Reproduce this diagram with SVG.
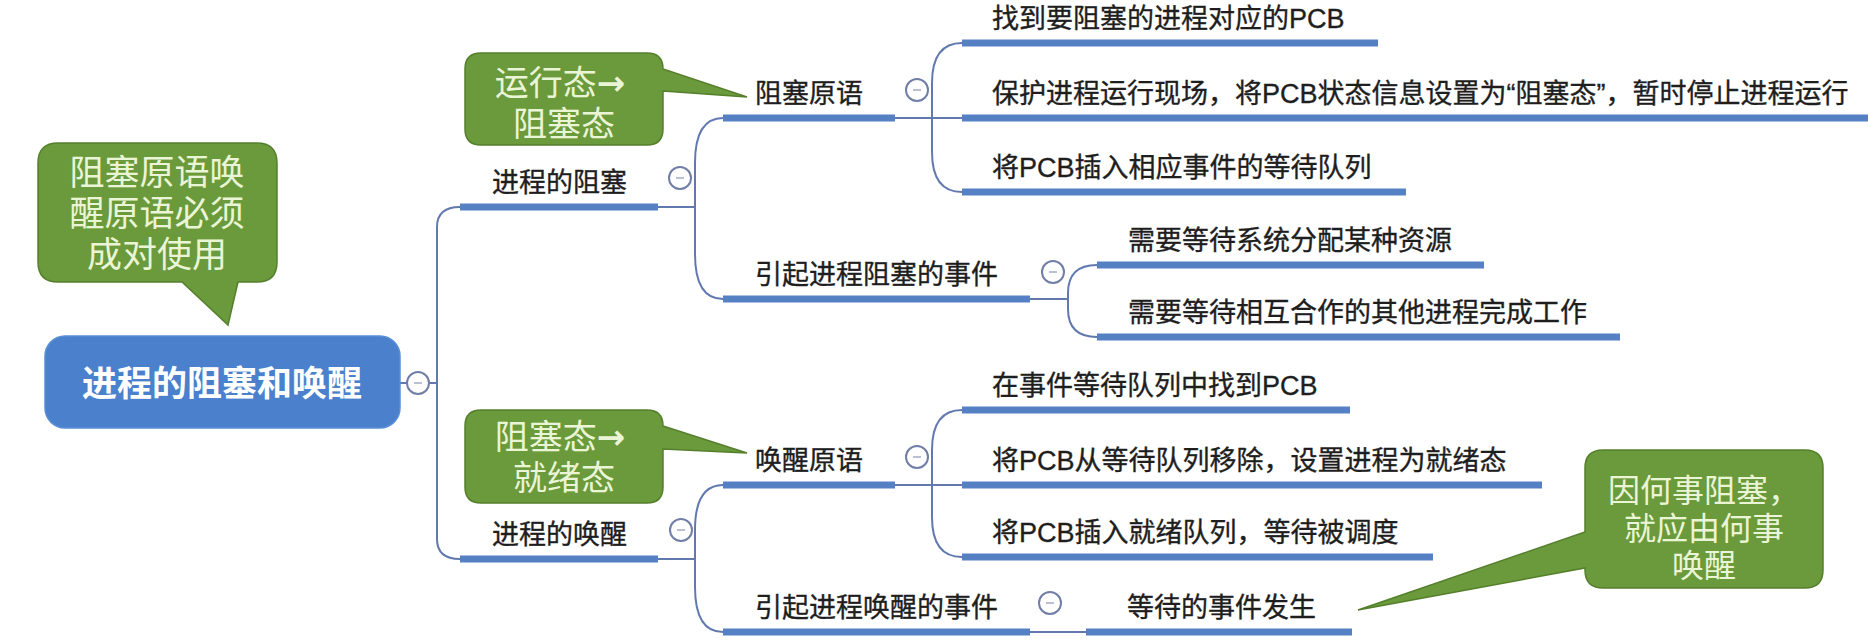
<svg xmlns="http://www.w3.org/2000/svg" width="1868" height="640" viewBox="0 0 1868 640">
<defs>
<style>
.t{font-family:"Liberation Sans","Noto Sans CJK SC",sans-serif;font-size:27px;fill:#1e1e1e;stroke:#1e1e1e;stroke-width:0.35px}
.ul{stroke:#5680c4;stroke-width:7;fill:none}
.cn{stroke:#6279b0;stroke-width:2;fill:none}
.cb{fill:#fff;stroke:#707ea8;stroke-width:2}
.cm{stroke:#a3aac2;stroke-width:1.5}
.co{fill:#6b9a3c;stroke:#557f2c;stroke-width:1.5}
.ct{font-family:"Liberation Sans","Noto Sans CJK SC",sans-serif;fill:#eaf5d6;text-anchor:middle}
.ar{font-family:"DejaVu Sans",sans-serif;font-weight:bold}
.rt{font-family:"Liberation Sans","Noto Sans CJK SC",sans-serif;font-size:35px;font-weight:bold;fill:#fff;text-anchor:middle}
</style>
</defs>
<rect width="1868" height="640" fill="#fff"/>

<g id="connectors">
<path class="cn" d="M400 383 H437"/>
<path class="cn" d="M437 383 V227 Q437 207 460 207"/>
<path class="cn" d="M437 383 V539 Q437 559 460 559"/>
<path class="cn" d="M658 207 H695"/>
<path class="cn" d="M695 207 V163 Q695 118 723 118"/>
<path class="cn" d="M695 207 V254 Q695 299 723 299"/>
<path class="cn" d="M895 118 H962"/>
<path class="cn" d="M932 118 V83 Q932 43 962 43"/>
<path class="cn" d="M932 118 V152 Q932 192 962 192"/>
<path class="cn" d="M1030 299 H1068"/>
<path class="cn" d="M1068 299 V293 Q1068 265 1097 265"/>
<path class="cn" d="M1068 299 V309 Q1068 337 1097 337"/>
<path class="cn" d="M658 559 H695"/>
<path class="cn" d="M695 559 V530 Q695 485 723 485"/>
<path class="cn" d="M695 559 V587 Q695 632 723 632"/>
<path class="cn" d="M895 485 H962"/>
<path class="cn" d="M932 485 V450 Q932 410 962 410"/>
<path class="cn" d="M932 485 V517 Q932 557 962 557"/>
<path class="cn" d="M1030 632 H1086"/>
</g>

<g id="root">
<rect x="45" y="336" width="355" height="92" rx="20" fill="#4a80cc" stroke="#5a8fd6" stroke-width="1.5"/>
<text class="rt" x="222" y="396">进程的阻塞和唤醒</text>
<circle class="cb" cx="418" cy="383" r="11"/><line class="cm" x1="414" y1="383" x2="422" y2="383"/>
</g>

<g id="n-block">
<line class="ul" x1="460" y1="207" x2="658" y2="207"/>
<text class="t" x="492" y="192">进程的阻塞</text>
<circle class="cb" cx="680" cy="178" r="11"/><line class="cm" x1="676" y1="178" x2="684" y2="178"/>
</g>
<g id="n-block-prim">
<line class="ul" x1="723" y1="118" x2="895" y2="118"/>
<text class="t" x="755" y="103">阻塞原语</text>
<circle class="cb" cx="917" cy="90" r="11"/><line class="cm" x1="913" y1="90" x2="921" y2="90"/>
</g>
<g id="n-b1">
<line class="ul" x1="962" y1="43" x2="1378" y2="43"/>
<text class="t" x="992" y="28">找到要阻塞的进程对应的PCB</text>
</g>
<g id="n-b2">
<line class="ul" x1="962" y1="118" x2="1868" y2="118"/>
<text class="t" x="992" y="103">保护进程运行现场，将PCB状态信息设置为“阻塞态”，暂时停止进程运行</text>
</g>
<g id="n-b3">
<line class="ul" x1="962" y1="192" x2="1406" y2="192"/>
<text class="t" x="992" y="177">将PCB插入相应事件的等待队列</text>
</g>
<g id="n-block-event">
<line class="ul" x1="723" y1="299" x2="1030" y2="299"/>
<text class="t" x="755" y="284">引起进程阻塞的事件</text>
<circle class="cb" cx="1053" cy="272" r="11"/><line class="cm" x1="1049" y1="272" x2="1057" y2="272"/>
</g>
<g id="n-e1">
<line class="ul" x1="1097" y1="265" x2="1484" y2="265"/>
<text class="t" x="1128" y="250">需要等待系统分配某种资源</text>
</g>
<g id="n-e2">
<line class="ul" x1="1097" y1="337" x2="1620" y2="337"/>
<text class="t" x="1128" y="322">需要等待相互合作的其他进程完成工作</text>
</g>

<g id="n-wake">
<line class="ul" x1="460" y1="559" x2="658" y2="559"/>
<text class="t" x="492" y="544">进程的唤醒</text>
<circle class="cb" cx="681" cy="530" r="11"/><line class="cm" x1="677" y1="530" x2="685" y2="530"/>
</g>
<g id="n-wake-prim">
<line class="ul" x1="723" y1="485" x2="895" y2="485"/>
<text class="t" x="755" y="470">唤醒原语</text>
<circle class="cb" cx="917" cy="457" r="11"/><line class="cm" x1="913" y1="457" x2="921" y2="457"/>
</g>
<g id="n-w1">
<line class="ul" x1="962" y1="410" x2="1350" y2="410"/>
<text class="t" x="992" y="395">在事件等待队列中找到PCB</text>
</g>
<g id="n-w2">
<line class="ul" x1="962" y1="485" x2="1542" y2="485"/>
<text class="t" x="992" y="470">将PCB从等待队列移除，设置进程为就绪态</text>
</g>
<g id="n-w3">
<line class="ul" x1="962" y1="557" x2="1433" y2="557"/>
<text class="t" x="992" y="542">将PCB插入就绪队列，等待被调度</text>
</g>
<g id="n-wake-event">
<line class="ul" x1="723" y1="632" x2="1030" y2="632"/>
<text class="t" x="755" y="617">引起进程唤醒的事件</text>
<circle class="cb" cx="1050" cy="603" r="11"/><line class="cm" x1="1046" y1="603" x2="1054" y2="603"/>
</g>
<g id="n-we1">
<line class="ul" x1="1086" y1="632" x2="1352" y2="632"/>
<text class="t" x="1127" y="617">等待的事件发生</text>
</g>

<g id="callout-pair">
<path class="co" d="M58 143 H257 Q277 143 277 163 V262 Q277 282 257 282 H238 L228 325 L182 282 H58 Q38 282 38 262 V163 Q38 143 58 143 Z"/>
<text class="ct" font-size="35"><tspan x="157" y="185">阻塞原语唤</tspan><tspan x="157" y="226">醒原语必须</tspan><tspan x="157" y="267">成对使用</tspan></text>
</g>
<g id="callout-run-block">
<path class="co" d="M481 53 H647 Q663 53 663 69 L747 97 L663 91 V129 Q663 145 647 145 H481 Q465 145 465 129 V69 Q465 53 481 53 Z"/>
<text class="ct" font-size="34"><tspan x="560" y="95">运行态<tspan class="ar">→</tspan></tspan><tspan x="564" y="136">阻塞态</tspan></text>
</g>
<g id="callout-block-ready">
<path class="co" d="M481 410 H647 Q663 410 663 426 L747 453 L663 449 V487 Q663 503 647 503 H481 Q465 503 465 487 V426 Q465 410 481 410 Z"/>
<text class="ct" font-size="34"><tspan x="560" y="449">阻塞态<tspan class="ar">→</tspan></tspan><tspan x="564" y="490">就绪态</tspan></text>
</g>
<g id="callout-wake">
<path class="co" d="M1603 450 H1805 Q1823 450 1823 468 V570 Q1823 588 1805 588 H1603 Q1585 588 1585 570 V568 L1358 610 L1585 532 V468 Q1585 450 1603 450 Z"/>
<text class="ct" font-size="32"><tspan x="1704" y="502">因何事阻塞，</tspan><tspan x="1704" y="540">就应由何事</tspan><tspan x="1704" y="577">唤醒</tspan></text>
</g>
</svg>
